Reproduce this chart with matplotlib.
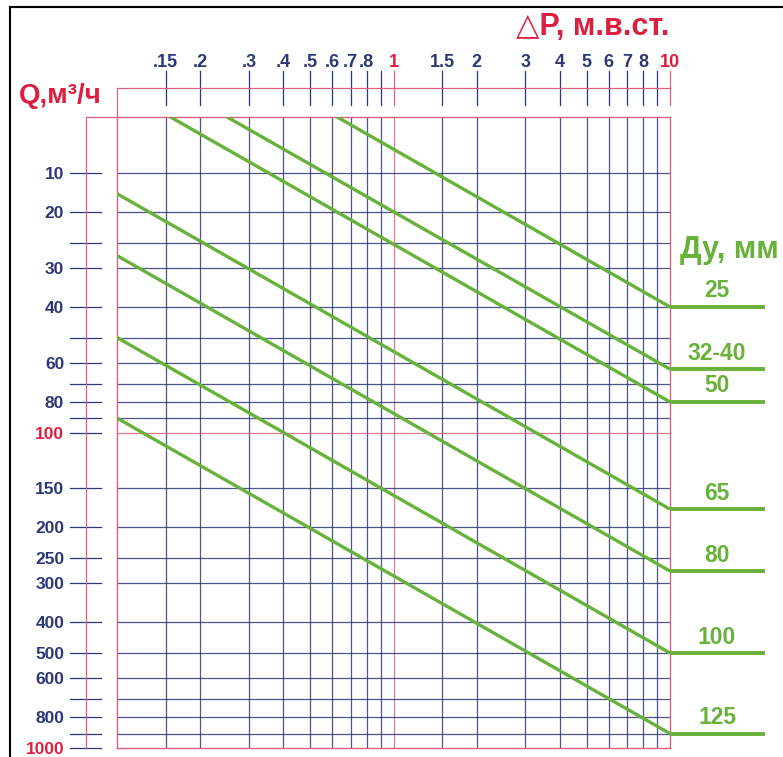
"""
Номограмма: расход Q (м3/ч) в зависимости от перепада давления dP (м.в.ст.)
для клапанов Ду 25...125
"""

import matplotlib
matplotlib.use('Agg')
import matplotlib.pyplot as plt
from matplotlib.transforms import blended_transform_factory
from matplotlib.lines import Line2D

plt.rcParams['font.family'] = ['Liberation Sans', 'DejaVu Sans']

# ---- данные ----
# верхняя шкала dP
dp_ticks = [0.15, 0.2, 0.3, 0.4, 0.5, 0.6, 0.7, 0.8, 0.9, 1, 1.5, 2, 3, 4, 5, 6, 7, 8, 9, 10]
dp_labels = ['.15', '.2', '.3', '.4', '.5', '.6', '.7', '.8', '', '1',
             '1.5', '2', '3', '4', '5', '6', '7', '8', '', '10']
# левая шкала Q (подпись "10" в оригинале стоит на линии 15)
q_ticks = [15, 20, 25, 30, 40, 50, 60, 70, 80, 90, 100,
           150, 200, 250, 300, 400, 500, 600, 700, 800, 900, 1000]
q_labels = ['10', '20', '', '30', '40', '', '60', '', '80', '', '100',
            '150', '200', '250', '300', '400', '500', '600', '', '800', '', '1000']
red_dp = [1, 10]
red_q = [100, 1000]

# линии Ду: начало и конец (dP, Q)
du_names = ['25', '32-40', '50', '65', '80', '100', '125']
dp_start = [0.625, 0.25, 0.156, 0.1, 0.1, 0.1, 0.1]
q_start = [10, 10, 10, 17.5, 27.5, 50, 90]
dp_end = [10, 10, 10, 10, 10, 10, 10]
q_end = [40, 63, 80, 175, 275, 500, 900]

NAVY = '#2c3778'
RED = '#dc1f3f'
PINK = '#d9607e'
GREEN = '#67b23a'

W, H = 783, 757
fig = plt.figure(figsize=(W / 100, H / 100), dpi=100)
fig.patch.set_facecolor('white')

ax = fig.add_axes([117 / W, 1 - 748 / H, 553 / W, 631 / H])
ax.set_xscale('log')
ax.set_yscale('log')
ax.set_xlim(0.1, 10)
ax.set_ylim(1000, 10)
ax.minorticks_off()

for s in ax.spines.values():
    s.set_color(PINK)
    s.set_linewidth(1.0)

# сетка
for v in dp_ticks[:-1]:
    c = PINK if v in red_dp else NAVY
    ax.axvline(v, color=c, lw=0.9, alpha=0.85)
for v in q_ticks[:-1]:
    c = PINK if v in red_q else NAVY
    ax.axhline(v, color=c, lw=0.9, alpha=0.85)

# верхняя полоса со штрихами
top_lo = 1 + 12 / 631
top_hi = 1 + 46 / 631
top_box = 1 + 29 / 631
for v in dp_ticks:
    c = PINK if v in red_dp else NAVY
    ax.axvline(v, ymin=top_lo, ymax=top_hi, color=c, lw=0.9, clip_on=False)
ax.plot([0, 1], [top_box, top_box], transform=ax.transAxes, color=PINK, lw=0.9, clip_on=False)
ax.plot([0, 0], [1, top_box], transform=ax.transAxes, color=PINK, lw=0.9, clip_on=False)

# левая полоса со штрихами
left_lo = -47 / 553
left_hi = -16 / 553
left_box = -31 / 553
for v in q_ticks:
    ax.axhline(v, xmin=left_lo, xmax=left_hi, color=NAVY, lw=0.9, clip_on=False)
ax.plot([left_box, left_box], [0, 1], transform=ax.transAxes, color=PINK, lw=0.9, clip_on=False)
ax.plot([left_box, 0], [1, 1], transform=ax.transAxes, color=PINK, lw=0.9, clip_on=False)

# подписи шкал
ax.set_xticks(dp_ticks)
ax.set_xticklabels(dp_labels)
ax.xaxis.tick_top()
ax.tick_params(axis='x', length=0, pad=33, labelsize=13, colors=NAVY)
for t, v in zip(ax.get_xticklabels(), dp_ticks):
    t.set_fontweight('bold')
    if v in red_dp:
        t.set_color(RED)

ax.set_yticks(q_ticks)
ax.set_yticklabels(q_labels)
ax.tick_params(axis='y', length=0, pad=38, labelsize=12.5, colors=NAVY)
for t, v in zip(ax.get_yticklabels(), q_ticks):
    t.set_fontweight('bold')
    if v in red_q:
        t.set_color(RED)

# линии Ду
tr = blended_transform_factory(ax.transAxes, ax.transData)
for name, x0, y0, x1, y1 in zip(du_names, dp_start, q_start, dp_end, q_end):
    ax.plot([x0, x1], [y0, y1], color=GREEN, lw=2.4, solid_capstyle='butt', zorder=5)
    ax.plot([1, 1 + 95 / 553], [y1, y1], transform=tr, color=GREEN, lw=2.8,
            solid_capstyle='butt', clip_on=False, zorder=5)
    ax.annotate(name, xy=(1 + 600 / 553 - 1, y1), xycoords=tr, xytext=(0, 11.5),
                textcoords='offset points', ha='center', va='center',
                color=GREEN, fontsize=16.5, fontweight='bold', annotation_clip=False)

# заголовки
fig.text(593 / W, 1 - 27 / H, '△P, м.в.ст.', color=RED, fontsize=22,
         fontweight='bold', ha='center', va='center')
fig.text(60 / W, 1 - 96 / H, 'Q,м³/ч', color=RED, fontsize=20,
         fontweight='bold', ha='center', va='center')
fig.text(729 / W, 1 - 250 / H, 'Ду, мм', color=GREEN, fontsize=22,
         fontweight='bold', ha='center', va='center')

# рамка
fig.add_artist(Line2D([10 / W, 10 / W], [0, 1 - 7 / H], color='black', lw=1.5))
fig.add_artist(Line2D([10 / W, 1], [1 - 7 / H, 1 - 7 / H], color='black', lw=1.5))

fig.savefig('out.png', dpi=100)
